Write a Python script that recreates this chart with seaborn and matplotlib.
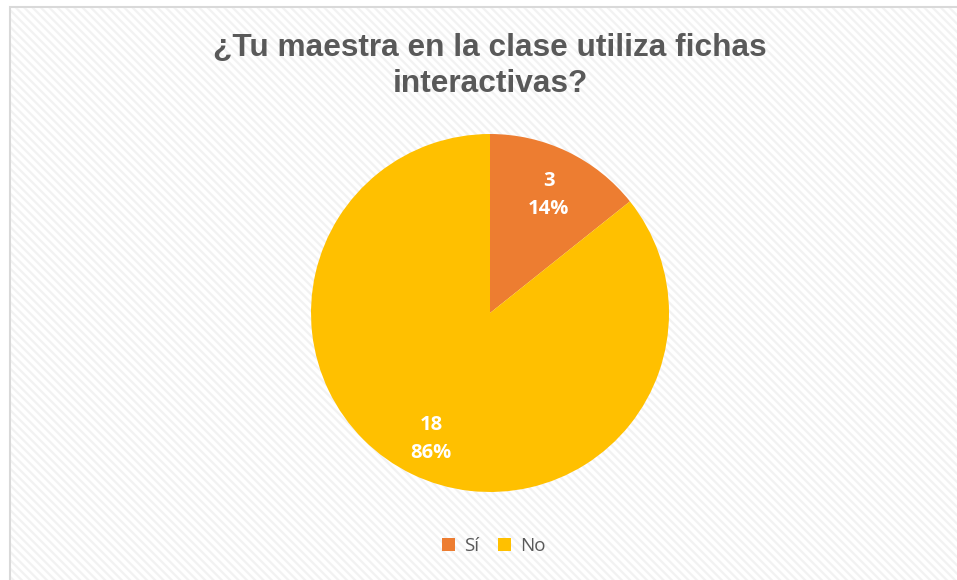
import matplotlib
matplotlib.use("Agg")
import matplotlib.pyplot as plt
import matplotlib.patches as mpatches
import matplotlib.transforms as mtransforms
import seaborn as sns

categories = ["Sí", "No"]
values = [3, 18]
colors = ["#ED7D31", "#FFC000"]
title = "¿Tu maestra en la clase utiliza fichas\ninteractivas?"

sns.set_theme(style="white")
plt.rcParams['font.family'] = ['Open Sans', 'DejaVu Sans']
plt.rcParams['hatch.linewidth'] = 1.6

W, H = 957, 580
fig = plt.figure(figsize=(W / 100, H / 100), dpi=100)
fig.patch.set_facecolor("white")

bg = mpatches.Rectangle((10 / W, -0.05), 1.1, 1 - 7 / H + 0.05, transform=fig.transFigure,
                        facecolor="white", edgecolor="#d9d9d9", linewidth=1.5, zorder=-2)
fig.patches.append(bg)
hatch = mpatches.Rectangle((11 / W, -0.05), 1.1, 1 - 8 / H + 0.05, transform=fig.transFigure,
                           facecolor="none", edgecolor="#f2f2f2", hatch="\\\\\\\\", linewidth=0, zorder=-1)
fig.patches.append(hatch)

cx, cy, r = 490, 313, 179
ax = fig.add_axes([(cx - r) / W, (H - cy - r) / H, 2 * r / W, 2 * r / H])
ax.set_zorder(1)
total = sum(values)

def fmt(pct):
    n = int(round(pct * total / 100.0))
    return f"{n}\n{pct:.0f}%"

wedges, texts, autotexts = ax.pie(values, colors=colors, startangle=90, counterclock=False,
                                  autopct=fmt, pctdistance=0.755,
                                  wedgeprops=dict(linewidth=0, edgecolor="none"),
                                  textprops=dict(color="white", fontsize=14.5, fontweight="bold",
                                                 linespacing=1.55))
for t in autotexts:
    t.set_transform(mtransforms.offset_copy(t.get_transform(), fig=fig, x=0, y=-4, units="dots"))
ax.set_xlim(-1, 1)
ax.set_ylim(-1, 1)
ax.set_aspect("equal")
ax.axis("off")

fig.text(490 / W, 1 - 66 / H, title, ha="center", va="center", fontsize=22.8, fontweight="bold",
         color="#595959", family=["Liberation Sans", "DejaVu Sans"], linespacing=1.27, zorder=2)

handles = [mpatches.Patch(facecolor=c, edgecolor="none") for c in colors]
leg = fig.legend(handles, categories, loc="center", bbox_to_anchor=(494 / W, 1 - 546 / H), ncol=2,
                 frameon=False, fontsize=13.5, labelcolor="#595959", handlelength=0.7, handleheight=0.7,
                 handletextpad=0.5, columnspacing=1.0)
leg.set_zorder(2)

fig.savefig("out.png", dpi=100)
